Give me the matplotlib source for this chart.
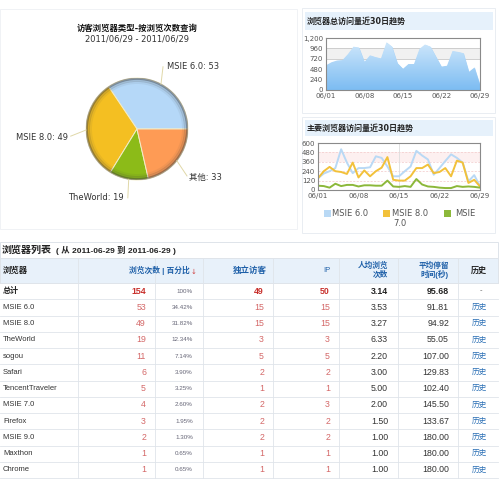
import matplotlib
matplotlib.use('Agg')
import matplotlib.pyplot as plt
import numpy as np
from matplotlib.patches import Rectangle, Circle
from matplotlib.colors import LinearSegmentedColormap
from matplotlib.ticker import FuncFormatter

CJK = ['DejaVu Sans', 'Noto Sans CJK SC']
TAB = ['Liberation Sans', 'Noto Sans CJK SC']
plt.rcParams['font.family'] = CJK

# ---------------- data ----------------
pie_labels = ['MSIE 6.0', 'MSIE 8.0', 'TheWorld', '其他']
pie_values = [53, 49, 19, 33]
pie_colors = ['#b5d8f8', '#f4bf22', '#8cbb18', '#fe9b55']

days = np.arange(1, 30)
xtick_days = [1, 8, 15, 22, 29]
xtick_labels = ['06/01', '06/08', '06/15', '06/22', '06/29']
total_visits = [570, 640, 680, 690, 830, 1000, 980, 650, 800, 760, 730, 1100, 1000, 620,
                490, 600, 600, 950, 1050, 1000, 770, 540, 560, 900, 880, 850, 420, 520, 130]
msie6 = [150, 210, 240, 280, 520, 350, 215, 280, 280, 290, 430, 410, 300, 175, 175, 240,
         300, 500, 440, 390, 195, 280, 370, 455, 410, 350, 110, 190, 50]
msie8 = [150, 240, 295, 240, 230, 205, 350, 160, 250, 175, 240, 285, 420, 130, 120, 120,
         175, 280, 280, 325, 215, 230, 280, 175, 375, 350, 90, 130, 45]
msie7 = [55, 50, 30, 80, 50, 65, 65, 45, 60, 60, 55, 55, 120, 45, 40, 50, 40, 140, 70, 45,
         40, 30, 25, 25, 50, 40, 45, 40, 30]
series_names = ['MSIE 6.0', 'MSIE 8.0', 'MSIE 7.0']
series_colors = ['#b9d9f5', '#f2c13a', '#8cb83a']

browsers = ['MSIE 6.0', 'MSIE 8.0', 'TheWorld', 'sogou', 'Safari', 'TencentTraveler',
            'MSIE 7.0', 'Firefox', 'MSIE 9.0', 'Maxthon', 'Chrome']
views = [53, 49, 19, 11, 6, 5, 4, 3, 2, 1, 1]
visitors = [15, 15, 3, 5, 2, 1, 2, 2, 2, 1, 1]
ips = [15, 15, 3, 5, 2, 1, 3, 2, 2, 1, 1]
avg_views = ['3.53', '3.27', '6.33', '2.20', '3.00', '5.00', '2.00', '1.50', '1.00', '1.00', '1.00']
avg_time = ['91.81', '94.92', '55.05', '107.00', '129.83', '102.40', '145.50', '133.67',
            '180.00', '180.00', '180.00']
total_row = {'views': 154, 'pct': '100%', 'visitors': 49, 'ips': 50,
             'avg_views': '3.14', 'avg_time': '95.68'}

# ---------------- figure ----------------
W, H = 500, 482
fig = plt.figure(figsize=(5, 4.82), dpi=100)
fig.patch.set_facecolor('white')
bg = fig.add_axes([0, 0, 1, 1])
bg.set_xlim(0, W); bg.set_ylim(H, 0); bg.axis('off')


def px_axes(l, t, r, b):
    return fig.add_axes([l / W, 1 - b / H, (r - l) / W, (b - t) / H])


# panel borders
bg.add_patch(Rectangle((0, 9), 297, 220, fill=False, ec='#f0f2f5', lw=0.7))
bg.add_patch(Rectangle((302, 8), 193, 105, fill=False, ec='#e9edf2', lw=0.7))
bg.add_patch(Rectangle((302, 117), 193, 116, fill=False, ec='#e9edf2', lw=0.7))
bg.add_patch(Rectangle((305, 12), 188, 18, fc='#e6f1fb', ec='none'))
bg.add_patch(Rectangle((305, 120), 188, 16, fc='#e6f1fb', ec='none'))
bg.text(307, 21, '浏览器总访问量近30日趋势', fontsize=5.8, fontweight='bold', va='center',
        color='#222')
bg.text(307, 128, '主要浏览器访问量近30日趋势', fontsize=5.8, fontweight='bold', va='center',
        color='#222')

# ---------------- pie ----------------
bg.text(137, 28, '访客浏览器类型-按浏览次数查询', fontsize=6, fontweight='bold', ha='center',
        va='center', color='#111')
bg.text(137, 39, '2011/06/29 - 2011/06/29', fontsize=6, ha='center', va='center', color='#333')

axp = px_axes(86, 78, 188, 180)
wedges, _ = axp.pie(pie_values, colors=pie_colors, startangle=0, counterclock=True,
                    wedgeprops=dict(edgecolor='#f3ecc8', linewidth=0.7))
for r, lw, a in [(0.985, 1.6, 0.45), (0.95, 2.0, 0.18), (0.91, 2.0, 0.07)]:
    axp.add_patch(Circle((0, 0), r, fill=False, ec=(0.25, 0.25, 0.25, a), lw=lw))
axp.set_xlim(-1, 1); axp.set_ylim(-1, 1)
axp.axis('off')

label_pos = [((0.59, 1.22), (0.51, 1.22), 'left'),
             ((-1.35, -0.16), (-1.30, -0.14), 'right'),
             ((-0.27, -1.35), (-0.18, -1.35), 'right'),
             ((1.02, -0.94), (0.98, -0.92), 'left')]
for w, lab, val, (tp, lp, ha) in zip(wedges, pie_labels, pie_values, label_pos):
    ang = np.deg2rad((w.theta1 + w.theta2) / 2)
    x0, y0 = np.cos(ang), np.sin(ang)
    axp.plot([x0, lp[0]], [y0, lp[1]], color='#e0d8a8', lw=0.7, clip_on=False)
    axp.text(tp[0], tp[1], f'{lab}: {val}', fontsize=6, ha=ha, va='center', color='#333',
             clip_on=False)

# ---------------- trend 1 ----------------
tick_fmt = FuncFormatter(lambda v, p: f'{int(v):,}')
ax1 = px_axes(326, 38, 480, 90)
ax1.axhspan(720, 960, color='#f1f1f1', zorder=0, lw=0)
for yv in (720, 960):
    ax1.axhline(yv, color='#c8c8c8', lw=0.6, zorder=0.5)
poly = ax1.fill_between(days, total_visits, 0, color='#a8d3f8', lw=0, zorder=1)
cmap = LinearSegmentedColormap.from_list('g', ['#7cbcf2', '#d6ebfc'])
grad = np.linspace(0, 1, 256).reshape(-1, 1)
im = ax1.imshow(grad, extent=[1, 29, 0, 1200], origin='lower', aspect='auto', cmap=cmap,
                zorder=1.5)
im.set_clip_path(poly.get_paths()[0], transform=ax1.transData)
ax1.set_xlim(1, 29); ax1.set_ylim(0, 1200)
ax1.set_yticks(range(0, 1201, 240))
ax1.yaxis.set_major_formatter(tick_fmt)
ax1.set_xticks(xtick_days); ax1.set_xticklabels(xtick_labels)

# ---------------- trend 2 ----------------
ax2 = px_axes(318, 143, 480, 190)
ax2.axhspan(360, 480, color='#fdf0f0', zorder=0, lw=0)
for yv in (120, 240, 360, 480):
    ax2.axhline(yv, color='#f2c8c8', lw=0.5, ls=(0, (3, 2)), zorder=0.5)
ax2.axvline(15, color='#dddddd', lw=0.6, zorder=0.5)
for ys, c in zip([msie6, msie8, msie7], series_colors):
    ax2.plot(days, ys, color=c, lw=1.4, zorder=2)
ax2.set_xlim(1, 29); ax2.set_ylim(0, 600)
ax2.set_yticks(range(0, 601, 120))
ax2.set_xticks(xtick_days); ax2.set_xticklabels(xtick_labels)

for ax in (ax1, ax2):
    for s in ax.spines.values():
        s.set_color('#8a8a8a'); s.set_linewidth(0.8)
    ax.tick_params(length=0, labelsize=5, colors='#555', pad=2)

# legend for trend 2 (manual, wraps like the reference)
leg_items = [(327, 213, 332, 'MSIE 6.0'), (386, 213, 392, 'MSIE 8.0'), (447, 213, 455, 'MSIE')]
for (sx, sy, tx, txt), c in zip(leg_items, series_colors):
    bg.add_patch(Rectangle((sx - 3.5, sy - 3.5), 7, 7, fc=c, ec='none'))
    bg.text(tx, sy, txt, fontsize=6, va='center', color='#555')
bg.text(393, 224, '7.0', fontsize=6, va='center', color='#555')

# ---------------- table ----------------
line_c = '#dfe4ea'
bg.add_patch(Rectangle((0, 242), 498, 16, fc='white', ec=line_c, lw=0.7))
bg.text(2, 250, '浏览器列表', fontsize=7.2, fontweight='bold', va='center', color='#222',
        family=TAB)
bg.text(56, 250.5, '( 从 2011-06-29 到 2011-06-29 )', fontsize=6, fontweight='bold',
        va='center', color='#222', family=TAB)
bg.add_patch(Rectangle((0, 258), 498, 25, fc='#e8f1fa', ec=line_c, lw=0.7))

row_h = 16.25
row_top = 283
n_rows = len(browsers) + 1
for i in range(n_rows + 1):
    y = row_top + i * row_h
    bg.plot([0, 498], [y, y], color=line_c, lw=0.6)
col_seps = [78, 155, 203, 273, 339, 398, 458]
for x in col_seps:
    bg.plot([x, x], [258, row_top + n_rows * row_h], color=line_c, lw=0.6)

hy = 270.5
blue_h = '#1d5fa8'
bg.text(3, hy, '浏览器', fontsize=6, fontweight='bold', va='center', color='#222', family=TAB)
bg.text(190, hy, '浏览次数 | 百分比', fontsize=5.6, fontweight='bold', ha='right', va='center',
        color=blue_h, family=TAB)
bg.text(190.5, hy + 1, '↓', fontsize=5, ha='left', va='center', color='#d04040', family=CJK)
bg.text(267, hy, '独立访客', fontsize=6.1, fontweight='bold', ha='right', va='center',
        color=blue_h, family=TAB)
bg.text(330, hy, 'IP', fontsize=5.5, ha='right', va='center', color=blue_h, family=TAB)
bg.text(388, hy, '人均浏览\n次数', fontsize=5.5, fontweight='bold', ha='right', va='center',
        multialignment='right', color=blue_h, family=TAB, linespacing=1.1)
bg.text(449, hy, '平均停留\n时间(秒)', fontsize=5.5, fontweight='bold', ha='right', va='center',
        multialignment='right', color=blue_h, family=TAB, linespacing=1.1)
bg.text(479, hy, '历史', fontsize=5.8, fontweight='bold', ha='center', va='center',
        color='#222', family=TAB)

red_b = '#c8302c'
red_l = '#d46868'
xr = dict(views=146, pct=193, vis=264, ip=330, avv=388, avt=449, hist=479)

# total row
y = row_top + row_h / 2
bg.text(3, y, '总计', fontsize=5.8, fontweight='bold', va='center', color='#222', family=TAB)
bg.text(xr['views'], y, str(total_row['views']), fontsize=6.3, fontweight='bold', ha='right',
        va='center', color=red_b, family=TAB)
bg.text(xr['pct'], y, total_row['pct'], fontsize=4.5, ha='right', va='center', color='#667',
        family=TAB)
bg.text(xr['vis'], y, str(total_row['visitors']), fontsize=6.3, fontweight='bold', ha='right',
        va='center', color=red_b, family=TAB)
bg.text(xr['ip'], y, str(total_row['ips']), fontsize=6.3, fontweight='bold', ha='right',
        va='center', color=red_b, family=TAB)
bg.text(xr['avv'], y, total_row['avg_views'], fontsize=6.3, fontweight='bold', ha='right',
        va='center', color='#222', family=TAB)
bg.text(xr['avt'], y, total_row['avg_time'], fontsize=6.3, fontweight='bold', ha='right',
        va='center', color='#222', family=TAB)
bg.text(xr['hist'] + 2, y, '-', fontsize=5.5, ha='center', va='center', color='#666', family=TAB)

total_views = sum(views)
for i, (b, v, vi, ip, av, at) in enumerate(zip(browsers, views, visitors, ips, avg_views,
                                                   avg_time)):
    y = row_top + (i + 1) * row_h + row_h / 2
    bg.text(3, y, b, fontsize=5.5, va='center', color='#333', family=TAB)
    bg.text(xr['views'], y, str(v), fontsize=6.3, ha='right', va='center', color=red_l,
            family=TAB)
    bg.text(xr['pct'], y, f'{v / total_views * 100:.2f}%', fontsize=4.5, ha='right',
            va='center', color='#667', family=TAB)
    bg.text(xr['vis'], y, str(vi), fontsize=6.3, ha='right', va='center', color=red_l,
            family=TAB)
    bg.text(xr['ip'], y, str(ip), fontsize=6.3, ha='right', va='center', color=red_l,
            family=TAB)
    bg.text(xr['avv'], y, av, fontsize=6.3, ha='right', va='center', color='#333', family=TAB)
    bg.text(xr['avt'], y, at, fontsize=6.3, ha='right', va='center', color='#333', family=TAB)
    bg.text(xr['hist'], y, '历史', fontsize=5.5, ha='center', va='center', color='#2a6fb5',
            family=TAB)

fig.savefig('out.png', dpi=100, facecolor='white')
